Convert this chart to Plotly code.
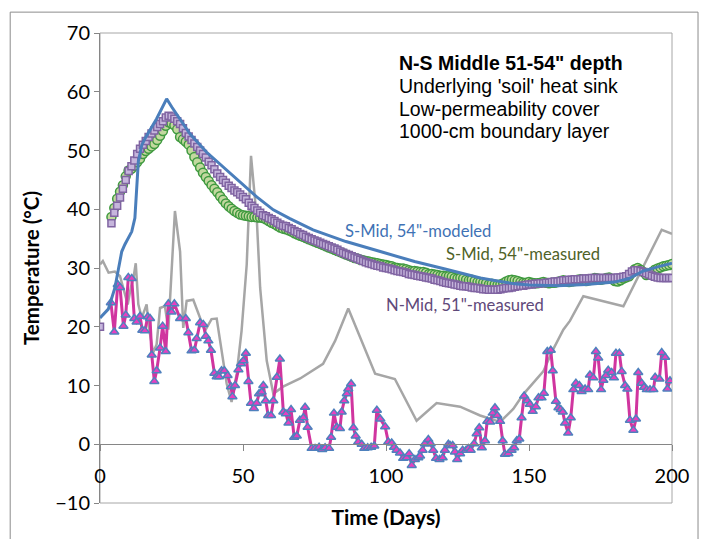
import plotly.graph_objects as go

# ---------------- data ----------------
# S-Mid 54" modeled (blue line)
model_days = [0, 1.2, 2.9, 5.2, 7.6, 8.7, 10.2, 11.1, 12.2, 13.4, 14.6, 15.7, 19.8, 23.3, 25.1, 28,
              31.5, 37.3, 43.1, 49, 54.8, 60.6, 66.4, 74.5, 86, 98, 110, 121, 133, 140, 145, 150,
              160, 170, 180, 185, 190, 195, 200]
model_vals = [21.5, 22.1, 23.0, 26.6, 32.8, 34.0, 35.4, 36.2, 38.5, 48.1, 50.9, 52.0, 55.4, 58.8, 57.4, 55.4,
              52.8, 49.7, 47.2, 44.7, 42.1, 39.9, 38.4, 36.5, 34.5, 32.8, 31.1, 29.8, 28.3, 27.7, 27.3, 27.1,
              27.0, 27.2, 27.6, 28.2, 29.5, 30.2, 30.8]

# S-Mid 54" measured (green circles), daily from day 4
smid_days = list(range(4, 201))
smid_vals = [38.7, 40.2, 41.8, 43.0, 44.1, 45.6, 46.6, 46.9, 47.4, 48.0, 48.6, 49.4, 49.9, 50.3, 50.7, 51.1,
             51.8, 52.5, 53.3, 54.2, 54.8, 54.6, 54.3, 53.6, 52.3, 51.9, 51.5, 51.0, 50.0, 48.9, 48.0, 47.1,
             46.2, 45.5, 44.8, 44.1, 43.5, 42.9, 42.2, 41.6, 41.0, 40.5, 40.1, 39.7, 39.4, 39.1, 39.0, 38.9,
             38.8, 38.7, 38.7, 38.6, 38.6, 38.5, 38.3, 38.0, 37.7, 37.5, 37.2, 36.9, 36.7, 36.6, 36.4, 36.2,
             35.9, 35.7, 35.5, 35.3, 35.1, 34.9, 34.7, 34.5, 34.3, 34.1, 33.9, 33.7, 33.5, 33.3, 33.1, 32.9,
             32.7, 32.5, 32.3, 32.1, 31.9, 31.7, 31.6, 31.4, 31.3, 31.2, 31.1, 31.0, 30.9, 30.8, 30.7, 30.6,
             30.5, 30.4, 30.3, 30.1, 30.0, 29.9, 29.9, 29.8, 29.6, 29.5, 29.5, 29.4, 29.3, 29.3, 29.2, 29.0,
             29.0, 28.9, 28.8, 28.7, 28.7, 28.6, 28.6, 28.5, 28.3, 28.2, 28.3, 28.2, 28.0, 27.9, 28.0, 27.8,
             27.6, 27.6, 27.5, 27.4, 27.2, 27.3, 27.2, 27.1, 27.2, 27.4, 27.7, 27.9, 28.0, 27.9, 27.8, 27.6,
             27.5, 27.5, 27.6, 27.5, 27.4, 27.4, 27.5, 27.6, 27.5, 27.4, 27.5, 27.5, 27.6, 27.8, 27.9, 27.7,
             27.6, 27.7, 27.8, 28.0, 28.1, 27.9, 27.8, 27.9, 28.1, 28.3, 28.2, 28.0, 28.1, 28.3, 28.4, 28.1,
             27.8, 27.7, 27.9, 28.2, 28.4, 28.6, 29.2, 29.8, 30.0, 29.7, 29.3, 28.8, 28.9, 29.3, 29.7, 29.9,
             30.1, 30.3, 30.4, 30.5, 30.7, 30.9]

# N-Mid 51" measured (purple squares): day 0 then daily from day 4
nmid_days = [0] + list(range(4, 201))
nmid_vals = [20.0,
             37.6, 39.4, 40.6, 42.0, 43.5, 45.0, 46.5, 47.3, 48.3, 49.4, 50.3, 51.0, 51.6, 52.3, 52.9, 53.4,
             54.0, 54.5, 55.0, 55.6, 55.9, 55.8, 55.4, 55.0, 54.5, 53.8, 53.0, 52.4, 51.8, 51.2, 50.6, 50.0,
             49.4, 48.8, 48.1, 47.5, 46.8, 46.1, 45.5, 45.0, 44.5, 44.0, 43.6, 43.2, 42.9, 42.5, 42.1, 41.7,
             41.1, 40.6, 40.2, 39.8, 39.4, 39.0, 38.8, 38.5, 38.3, 38.0, 37.7, 37.4, 37.2, 37.1, 36.8, 36.6,
             36.3, 36.1, 35.8, 35.6, 35.3, 35.1, 34.9, 34.7, 34.5, 34.3, 34.1, 33.9, 33.7, 33.5, 33.3, 33.1,
             32.8, 32.6, 32.4, 32.2, 32.0, 31.8, 31.6, 31.4, 31.2, 31.0, 30.8, 30.7, 30.5, 30.4, 30.3, 30.1,
             30.0, 29.9, 29.8, 29.6, 29.5, 29.4, 29.3, 29.2, 29.0, 28.9, 28.8, 28.7, 28.6, 28.5, 28.4, 28.3,
             28.2, 28.0, 27.9, 27.8, 27.6, 27.5, 27.4, 27.3, 27.2, 27.1, 27.0, 26.9, 26.9, 26.8, 26.7, 26.6,
             26.6, 26.5, 26.4, 26.4, 26.3, 26.3, 26.3, 26.3, 26.4, 26.5, 26.6, 26.6, 26.7, 26.8, 26.9, 27.0,
             27.0, 27.1, 27.2, 27.2, 27.3, 27.3, 27.4, 27.4, 27.5, 27.5, 27.6, 27.7, 27.7, 27.8, 27.9, 27.9,
             28.0, 28.0, 28.1, 28.1, 28.1, 28.2, 28.2, 28.2, 28.3, 28.3, 28.3, 28.3, 28.3, 28.3, 28.3, 28.3,
             28.3, 28.4, 28.4, 28.5, 28.6, 29.0, 29.4, 29.6, 29.6, 29.5, 29.3, 29.1, 28.9, 28.7, 28.5, 28.4,
             28.3, 28.3, 28.3, 28.3, 28.3]

# measured series with triangles (magenta line)
tri_days = [3.8, 5.0, 6.2, 7.0, 8.2, 9.0, 9.9, 11.1, 12.0, 12.8, 14.0, 14.8, 15.7, 16.7, 17.5, 18.1, 19.0,
            19.8, 21.0, 21.9, 23.0, 23.9, 25.0, 26.0, 28.0, 30.0, 30.9, 32.0, 33.0, 33.8, 35.0, 36.1, 37.0,
            37.9, 38.8, 40.0, 40.8, 41.6, 42.5, 43.5, 44.6, 45.8, 46.3, 47.2, 48.4, 49.3, 50.1, 51.0, 51.9,
            52.8, 53.8, 54.8, 55.6, 56.5, 57.1, 57.9, 58.8, 59.8, 60.6, 61.8, 62.9, 64.1, 65.0, 65.9, 66.8,
            67.9, 68.8, 69.9, 71.1, 71.7, 72.6, 74.0, 75.2, 76.6, 77.7, 78.7, 80.1, 80.8, 81.8, 82.8, 83.9,
            84.5, 85.4, 86.3, 86.8, 87.8, 88.6, 89.4, 90.3, 91.5, 92.4, 93.6, 94.8, 95.9, 96.8, 98.0, 99.7,
            100.8, 102.0, 102.8, 103.7, 104.9, 106.0, 107.2, 108.1, 109.0, 110.1, 111.3, 111.9, 112.8, 113.6,
            114.8, 115.6, 116.5, 117.5, 118.7, 119.8, 120.6, 121.8, 122.4, 123.3, 124.1, 124.9, 125.9, 126.8,
            128.0, 128.8, 129.6, 130.8, 131.7, 132.6, 133.5, 134.6, 135.4, 136.4, 137.3, 138.1, 138.9, 139.9,
            140.8, 141.6, 142.8, 143.9, 144.8, 145.7, 146.6, 147.4, 148.3, 149.4, 150.3, 151.3, 152.4, 153.3,
            154.4, 155.2, 156.4, 157.6, 158.3, 159.4, 160.3, 161.1, 161.8, 162.6, 163.7, 164.6, 165.5, 166.4,
            167.6, 168.4, 169.6, 170.7, 171.3, 172.5, 173.4, 174.2, 175.2, 176.0, 176.9, 177.7, 178.9, 179.7,
            180.4, 181.6, 182.4, 183.6, 184.4, 185.3, 186.5, 187.4, 188.2, 189.4, 190.2, 191.2, 192.3, 193.5,
            194.1, 195.6, 196.4, 197.6, 198.4, 199.3]
tri_vals = [24.1, 19.1, 27.2, 26.7, 20.1, 22.0, 28.4, 28.2, 21.4, 20.8, 21.8, 19.4, 19.3, 21.7, 21.4, 15.2, 10.7,
            12.5, 16.4, 20.1, 15.8, 23.9, 22.5, 23.9, 21.4, 21.4, 19.0, 15.9, 16.0, 18.0, 20.7, 20.4, 18.4,
            17.6, 16.0, 12.1, 11.5, 11.5, 12.5, 12.5, 11.7, 9.8, 8.1, 10.0, 12.7, 13.7, 14.2, 15.5, 10.7,
            7.0, 6.1, 7.0, 8.6, 8.9, 10.0, 7.4, 4.9, 4.9, 7.4, 11.4, 14.5, 5.5, 5.2, 3.6, 5.9,
            1.2, 1.4, 4.1, 4.5, 6.3, 2.9, -0.7, -0.7, -0.5, -0.9, -0.6, -0.7, 1.2, 5.3, 2.9, 2.7,
            5.5, 7.4, 8.6, 9.4, 10.3, 2.8, 1.4, 0.4, 0.0, -0.7, -0.6, -0.5, -0.3, 5.8, 4.3, 3.0,
            0.4, 0.2, -0.5, -1.0, -1.5, -2.4, -2.3, -1.6, -3.6, -2.6, -2.3, -2.0, -1.0, 0.1,
            0.8, 0.1, -1.0, -2.4, -2.6, -2.3, -1.0, 0.0, -0.2, -0.2, -1.3, -2.6, -1.6, -1.0,
            -1.0, -0.7, -1.0, 0.1, 1.8, 2.8, -0.6, 0.6, 3.9, 3.8, 5.3, 6.2, 4.9, 3.9,
            0.6, -1.7, -1.6, -1.0, -0.6, 0.6, 0.9, 4.5, 8.2, 7.4, 6.8, 5.6, 6.4, 7.9,
            7.9, 8.7, 15.8, 16.0, 12.5, 7.3, 6.2, 5.9, 5.5, 3.6, 1.9, 4.5, 9.3, 10.4,
            10.0, 9.0, 9.4, 9.3, 11.8, 11.3, 15.8, 14.7, 9.3, 10.9, 11.7, 12.6, 12.2, 11.3,
            15.5, 15.5, 12.4, 10.0, 9.4, 4.1, 2.4, 4.3, 12.2, 10.4, 9.7, 9.3, 9.3, 9.3,
            11.4, 11.1, 15.6, 14.8, 9.4, 10.8]

# gray line
gray_days = [0, 1, 3, 5.2, 7.0, 8.7, 9.7, 10.8, 11.7, 12.5, 13.4, 14.6, 16.3, 17.1, 18.6, 19.8, 21.0, 22.7,
             23.9, 26.2, 28.0, 29.1, 30.3, 32.6, 35.0, 36.7, 39.0, 40.8, 42.0, 44.3, 46.0, 47.8, 49.5, 51.3,
             52.8, 54.8, 56.0, 58.3, 60.6, 64.0, 70.0, 78.0, 82.2, 86.8, 96.2, 103.1, 110.7, 117.7, 125.9,
             132.9, 139.9, 144.5, 148.0, 155.0, 158.5, 162.0, 164.3, 169.0, 183.0, 196.4, 200]
gray_vals = [30.6, 31.2, 29.2, 29.4, 28.6, 25.5, 23.8, 26.7, 28.3, 30.8, 23.8, 21.5, 23.8, 19.8, 15.6, 17.0, 23.2, 23.5,
             19.5, 39.7, 32.8, 19.8, 24.4, 24.6, 21.3, 19.3, 21.3, 21.4, 17.6, 10.3, 7.2, 12.0, 19.3, 30.6,
             49.1, 38.5, 26.6, 14.2, 8.6, 9.8, 11.2, 13.7, 17.6, 23.1, 12.0, 11.1, 4.0, 7.0, 6.4,
             4.9, 3.8, 6.0, 8.5, 12.4, 16.2, 19.5, 21.0, 25.2, 23.5, 36.5, 35.8]

y_ticks = [-10, 0, 10, 20, 30, 40, 50, 60, 70]
x_ticks = [0, 50, 100, 150, 200]

info_lines = ["<b>N-S Middle 51-54\" depth</b>", "Underlying 'soil' heat sink",
              "Low-permeability cover", "1000-cm boundary layer"]

# ---------------- figure ----------------
CAL = "Lato, Carlito, Calibri, sans-serif"
ARIAL = "Liberation Sans, Arial, sans-serif"

fig = go.Figure()
fig.add_trace(go.Scatter(x=gray_days, y=gray_vals, mode="lines",
                         line=dict(color="#a6a6a6", width=2.5), showlegend=False))
fig.add_trace(go.Scatter(x=tri_days, y=tri_vals, mode="lines+markers",
                         line=dict(color="#d0359f", width=3),
                         marker=dict(symbol="triangle-up", size=8, color="#e83fc0",
                                     line=dict(color="#4f81bd", width=1.5)),
                         showlegend=False))
fig.add_trace(go.Scatter(x=smid_days, y=smid_vals, mode="markers",
                         marker=dict(symbol="circle", size=9, color="#c3d89f",
                                     line=dict(color="#3f9a3f", width=1.5)),
                         showlegend=False))
fig.add_trace(go.Scatter(x=nmid_days, y=nmid_vals, mode="markers",
                         marker=dict(symbol="square", size=7, color="#c6b6dc",
                                     line=dict(color="#8064a2", width=1.5)),
                         showlegend=False))
fig.add_trace(go.Scatter(x=model_days, y=model_vals, mode="lines",
                         line=dict(color="#4a7ebb", width=3), showlegend=False))

# page body has an 8px margin: figure is 700x531 placed at (8, 8)
fig.update_layout(
    width=700, height=531,
    margin=dict(l=92, r=36, t=22, b=36),
    paper_bgcolor="white", plot_bgcolor="white",
    showlegend=False,
    xaxis=dict(range=[0, 200], tickvals=x_ticks, ticks="outside", ticklen=6,
               tickcolor="#868686", showline=True, linecolor="#868686", linewidth=1,
               showgrid=False, zeroline=False, anchor="free", position=0.125,
               ticklabelstandoff=8,
               tickfont=dict(family=CAL, size=20, color="black"),
               title=dict(text="<b>Time (Days)</b>", standoff=24,
                          font=dict(family=CAL, size=21, color="black"))),
    yaxis=dict(range=[-10, 70], tickvals=y_ticks, ticks="outside", ticklen=5,
               tickcolor="#868686", showline=True, linecolor="#868686", linewidth=1,
               showgrid=False, zeroline=False,
               tickfont=dict(family=CAL, size=20, color="black"),
               title=dict(text="<b>Temperature (°C)</b>", standoff=10,
                          font=dict(family=CAL, size=20.5, color="black"))),
)

# plot-area border and outer chart border
fig.add_shape(type="rect", xref="paper", yref="paper", x0=0, x1=1, y0=0, y1=1,
              line=dict(color="#a6a6a6", width=1), layer="below")
fig.add_shape(type="rect", xref="paper", yref="paper", x0=-0.157, x1=1.0455, y0=-0.09, y1=1.0444,
              line=dict(color="#8c8c8c", width=1), layer="below")

line_y = [60, 83, 106, 129]
for txt, py in zip(info_lines, line_y):
    fig.add_annotation(text=txt, xref="paper", yref="paper", x=(397 - 100) / 572, y=(503 - py) / 473,
                       xanchor="left", yanchor="middle", showarrow=False,
                       font=dict(family=ARIAL, size=19.5, color="black"))

labels = [("S-Mid, 54\"-modeled", 418, 229, "#3f72b5"),
          ("S-Mid, 54\"-measured", 523, 252, "#4f6228"),
          ("N-Mid, 51\"-measured", 465, 304, "#5f497a")]
for txt, px, py, col in labels:
    fig.add_annotation(text=txt, xref="paper", yref="paper", x=(px - 100) / 572, y=(503 - py) / 473,
                       xanchor="center", yanchor="middle", showarrow=False,
                       font=dict(family=CAL, size=16.6, color=col))

fig.write_html("out.html")
